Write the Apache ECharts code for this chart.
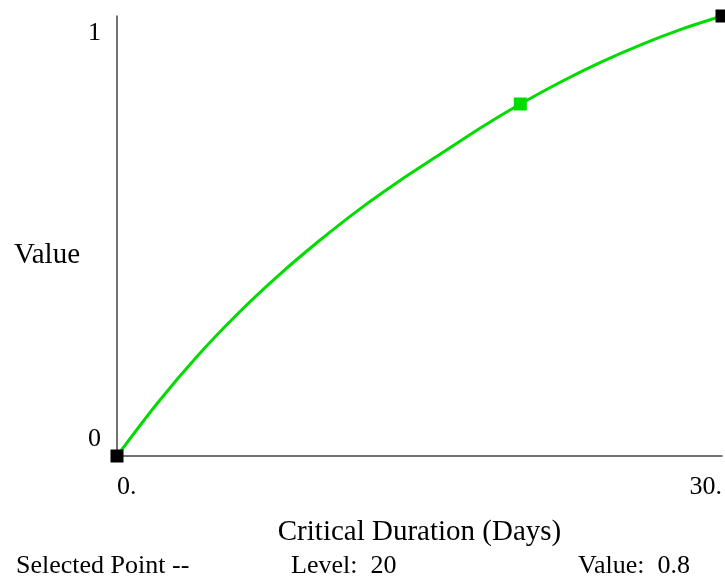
<!DOCTYPE html>
<html>
<head>
<meta charset="utf-8">
<script src="https://cdn.jsdelivr.net/npm/echarts@6/dist/echarts.min.js"></script>
<style>
  html, body { margin: 0; padding: 0; background: #fff; }
  #chart { width: 725px; height: 586px; }
</style>
</head>
<body>
<div id="chart"></div>
<script>
// lookup curve, every 2 days
var days = [0, 2, 4, 6, 8, 10, 12, 14, 16, 18, 20, 22, 24, 26, 28, 30]
var values = [0, 0.12, 0.228, 0.324, 0.41, 0.488, 0.56, 0.625, 0.685, 0.745, 0.8, 0.85, 0.895, 0.935, 0.97, 1.0]
// the defined points (squares)
var pointDays = [0, 20, 30]
var pointValues = [0, 0.8, 1]
var selectedIndex = 1
var xTickLabels = { 0: '0.', 30: '30.' }
var yTickLabels = { 0: '0', 1: '1' }

var font = '"Liberation Serif", "Times New Roman", serif'
var green = '#00dc00'

var chart = echarts.init(document.getElementById('chart'))

var option = {
  animation: false,
  textStyle: { fontFamily: font },
  grid: { left: 117, right: 1, top: 16, bottom: 130, containLabel: false },
  xAxis: {
    type: 'value',
    min: 0,
    max: 30,
    interval: 30,
    name: 'Critical Duration (Days)',
    nameLocation: 'middle',
    nameGap: 62,
    nameTextStyle: { color: '#000', fontSize: 29, fontFamily: font },
    axisLine: { show: true, lineStyle: { color: '#444', width: 1.5 } },
    axisTick: { show: false },
    splitLine: { show: false },
    axisLabel: {
      color: '#000',
      fontSize: 26,
      fontFamily: font,
      margin: 18,
      alignMinLabel: 'left',
      alignMaxLabel: 'right',
      formatter: function (v) { return xTickLabels[v] }
    }
  },
  yAxis: {
    type: 'value',
    min: 0,
    max: 1,
    interval: 1,
    name: 'Value',
    nameLocation: 'middle',
    nameRotate: 0,
    nameGap: 37,
    nameTextStyle: { color: '#000', fontSize: 29, lineHeight: 39, fontFamily: font, verticalAlign: 'top' },
    axisLine: { show: true, lineStyle: { color: '#444', width: 1.5 } },
    axisTick: { show: false },
    splitLine: { show: false },
    axisLabel: {
      color: '#000',
      fontSize: 26,
      lineHeight: 34,
      fontFamily: font,
      margin: 16,
      verticalAlignMinLabel: 'bottom',
      verticalAlignMaxLabel: 'top',
      formatter: function (v) { return yTickLabels[v] }
    }
  },
  series: [
    {
      type: 'line',
      smooth: 0.3,
      showSymbol: false,
      data: days.map(function (d, i) { return [d, values[i]] }),
      lineStyle: { color: green, width: 3 },
      z: 2
    },
    {
      type: 'scatter',
      symbol: 'rect',
      symbolSize: 13,
      clip: false,
      data: pointDays.map(function (d, i) {
        return {
          value: [d, pointValues[i]],
          itemStyle: { color: i === selectedIndex ? green : '#000', opacity: 1 }
        }
      }),
      z: 3
    }
  ],
  graphic: [
    {
      type: 'text', left: 16, top: 553,
      style: { text: 'Selected Point --', font: '26px ' + font, fill: '#000' }
    },
    {
      type: 'text', left: 291, top: 553,
      style: { text: 'Level:  ' + pointDays[selectedIndex], font: '26px ' + font, fill: '#000' }
    },
    {
      type: 'text', left: 578, top: 553,
      style: { text: 'Value:  ' + pointValues[selectedIndex], font: '26px ' + font, fill: '#000' }
    }
  ]
}

chart.setOption(option)
</script>
</body>
</html>
